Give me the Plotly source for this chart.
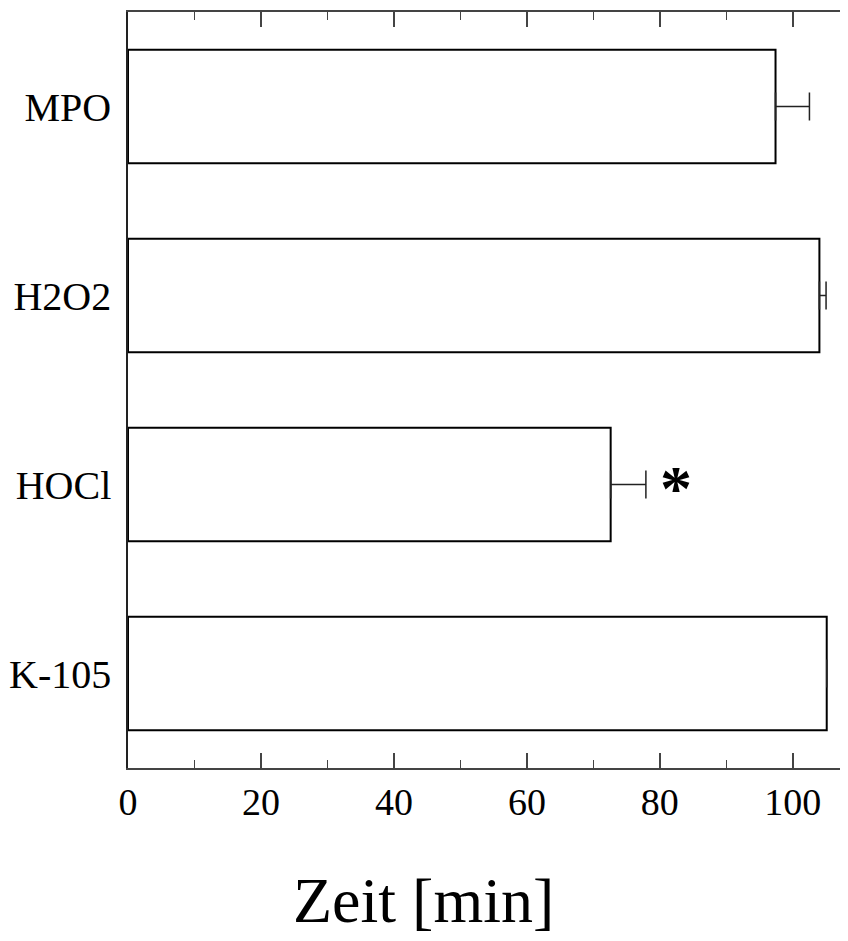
import plotly.graph_objects as go

categories = ["K-105", "HOCl", "H2O2", "MPO"]
values = [105.1, 72.6, 104.0, 97.4]
errors_plus = [0.0, 5.3, 1.0, 5.1]
tick_vals = [0, 20, 40, 60, 80, 100]
tick_text = ["0", "20", "40", "60", "80", "100"]
x_title = "Zeit [min]"
star_label = "<b>*</b>"
star_category = "HOCl"
star_x = 82.5

FONT = "Liberation Serif, Times New Roman, serif"

fig = go.Figure()
fig.add_trace(go.Bar(
    y=categories,
    x=values,
    orientation="h",
    width=0.6,
    marker=dict(color="white", line=dict(color="black", width=2)),
    error_x=dict(type="data", symmetric=False, array=errors_plus,
                 arrayminus=[0] * len(values), color="#222222",
                 thickness=1.5, width=14),
    showlegend=False,
))

fig.add_annotation(x=star_x, y=star_category, text=star_label, showarrow=False,
                   font=dict(family=FONT, size=64, color="black"),
                   xanchor="center", yanchor="middle", yshift=-4)

fig.add_annotation(x=0.411, y=-0.2255, xref="paper", yref="paper",
                   text=x_title, showarrow=False, xanchor="center", yanchor="bottom",
                   font=dict(family=FONT, size=64, color="black"))

fig.update_layout(
    width=840, height=933,
    margin=dict(l=120, r=0, t=4, b=173),
    paper_bgcolor="white", plot_bgcolor="white",
    font=dict(family=FONT, color="black"),
    bargap=0.4,
)
fig.update_xaxes(
    range=[0, 108.3],
    tickvals=tick_vals, ticktext=tick_text,
    ticks="inside", ticklen=15, tickwidth=1.5, tickcolor="#444444",
    minor=dict(dtick=10, ticks="inside", ticklen=8, tickwidth=1.2, tickcolor="#444444"),
    showline=True, linecolor="#444444", linewidth=1.5, mirror="ticks",
    showgrid=False, zeroline=False,
    tickfont=dict(family=FONT, size=38, color="black"),
)
fig.update_yaxes(
    range=[-0.5, 3.5],
    showline=True, linecolor="#222222", linewidth=1.5, mirror=False,
    ticks="", showgrid=False, zeroline=False,
    ticklabelstandoff=7,
    tickfont=dict(family=FONT, size=40, color="black"),
)

fig.write_html("out.html")
